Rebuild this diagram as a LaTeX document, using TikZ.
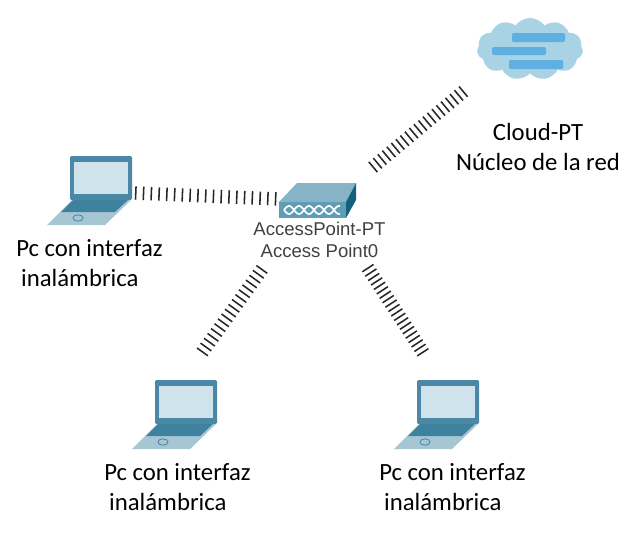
\documentclass[tikz,border=0pt]{standalone}
\usepackage{fontspec}
\setmainfont{Carlito}
\newfontfamily\apfont{Liberation Sans}
\usetikzlibrary{shapes.symbols}
\definecolor{lidblue}{HTML}{4A88A5}
\definecolor{screenblue}{HTML}{CFE3EC}
\definecolor{baseblue}{HTML}{A6C6D4}
\definecolor{keyblue}{HTML}{3F82A0}
\definecolor{apfront}{HTML}{5F9DB5}
\definecolor{aptop}{HTML}{86B4C6}
\definecolor{apside}{HTML}{14607F}
\definecolor{cloudblue}{HTML}{A9D3E4}
\definecolor{barblue}{HTML}{5FB0E2}
\tikzset{
    wireless/.style={draw=black!85, line width=9.5pt, dash pattern=on 1.1pt off #1},
    pclabel/.style={align=left, anchor=north west, font=\fontsize{17.6pt}{21.5pt}\selectfont, inner sep=0pt},
    aplabel/.style={align=center, font=\apfont\fontsize{13.2pt}{15.8pt}\selectfont, text=black!75, inner sep=0pt},
    laptop/.pic={
        \fill[lidblue, rounded corners=1pt] (0,0) -- (62,0) -- (62,44) -- (0,44) -- cycle;
        \fill[screenblue] (4,6) rectangle (58,38);
        \fill[baseblue] (-23,69) -- (35,69) -- (61,44) -- (2,44) -- cycle;
        \fill[keyblue] (-9,56) -- (45,56) -- (58,44) -- (3,44) -- cycle;
        \draw[lidblue, line width=0.6pt] (8,62) ellipse (5 and 3.2);
    }
}
\begin{document}
\begin{tikzpicture}[x=0.025cm, y=-0.025cm]
    \useasboundingbox (0,0) rectangle (640,533);
    % laptops
    \pic at (70,156) {laptop};
    \pic at (155,380) {laptop};
    \pic at (417,380) {laptop};
    % access point
    \fill[aptop] (279,202) -- (297,183) -- (356,183) -- (346,202) -- cycle;
    \fill[apside] (346,202) -- (356,183) -- (356,200) -- (346,218) -- cycle;
    \fill[apfront] (279,202) rectangle (346,218);
    \draw[white, line width=1.2pt] plot[domain=284:340, samples=80] (\x,{210+4*sin(18*(\x-284))});
    \draw[white, line width=1.2pt] plot[domain=284:340, samples=80] (\x,{210-4*sin(18*(\x-284))});
    % cloud
    \node[cloud, cloud puffs=11, cloud puff arc=110, aspect=1.9, fill=cloudblue, minimum width=2.65cm, minimum height=1.55cm, inner sep=0pt] (cloudpt) at (530,49) {};
    \fill[barblue, rounded corners=1pt] (512,33) rectangle (565,42);
    \fill[barblue, rounded corners=1pt] (492,47) rectangle (546,55);
    \fill[barblue, rounded corners=1pt] (509,60) rectangle (563,69);
    % connector ends
    \coordinate (pcleftend) at (135,193);
    \coordinate (apleftend) at (278.5,199);
    \coordinate (apcloudend) at (372.5,167.5);
    \coordinate (cloudend) at (464,91);
    \coordinate (apdownleft) at (262.5,268.5);
    \coordinate (pcdownleft) at (202,352.5);
    \coordinate (apdownright) at (367.5,267.5);
    \coordinate (pcdownright) at (424,354);
    \draw[wireless=4.43pt] (pcleftend) -- (apleftend);
    \draw[wireless=3.08pt] (apcloudend) -- (cloudend);
    \draw[wireless=3.15pt] (pcdownleft) -- (apdownleft);
    \draw[wireless=2.66pt] (apdownright) -- (pcdownright);
    % labels
    \node[aplabel] (aplab) at (319.5,240) {AccessPoint-PT\\Access Point0};
    \node[align=center, inner sep=0pt, font=\fontsize{17.6pt}{21pt}\selectfont] (cloudlab) at (538,147) {Cloud-PT\\Núcleo de la red};
    \node[pclabel] (pcleft) at (16,239) {Pc con interfaz\\\hspace*{3.5pt}inalámbrica};
    \node[pclabel] (pcmid) at (104,463) {Pc con interfaz\\\hspace*{3.5pt}inalámbrica};
    \node[pclabel] (pcright) at (379,463) {Pc con interfaz\\\hspace*{3.5pt}inalámbrica};
\end{tikzpicture}
\end{document}
